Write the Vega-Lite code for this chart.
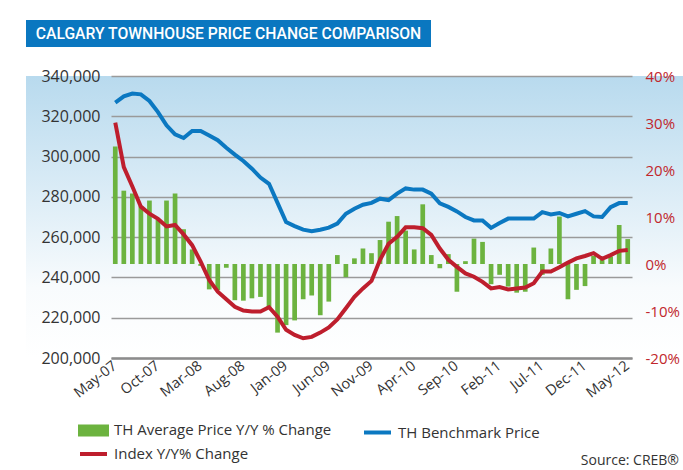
{
 "$schema": "https://vega.github.io/schema/vega-lite/v6.json",
 "padding": {"left": 26, "top": 20, "right": 0, "bottom": 0},
 "background": "white",
 "spacing": 21,
 "config": {"view": {"stroke": null}, "font": "Open Sans"},
 "vconcat": [
  {
   "width": 405, "height": 27,
   "view": {"fill": "#0a77c0", "stroke": null},
   "data": {"values": [{"t": "CALGARY TOWNHOUSE PRICE CHANGE COMPARISON"}]},
   "mark": {"type": "text", "color": "white", "font": "Roboto", "fontSize": 15.7, "fontWeight": 500, "align": "center", "baseline": "middle"},
   "encoding": {"text": {"field": "t"}}
  },
  {
   "width": 657, "height": 282,
   "view": {"fill": {"gradient": "linear", "x1": 0, "y1": 0, "x2": 0, "y2": 1, "stops": [{"offset": 0, "color": "#b8daee"}, {"offset": 0.75, "color": "#f8fbfd"}, {"offset": 1, "color": "#ffffff"}]}, "stroke": null},
   "title": {"text": "Source: CREB®", "orient": "bottom", "anchor": "end", "fontSize": 14, "fontWeight": "normal", "font": "Open Sans", "color": "#333333", "offset": 54, "dx": -4},
   "data": {"values": [
    {"m": "May-07", "avg": 25.0, "bench": 326800, "idx": 30.1},
    {"m": "Jun-07", "avg": 15.6, "bench": 329900, "idx": 20.6},
    {"m": "Jul-07", "avg": 15.0, "bench": 331300, "idx": 16.5},
    {"m": "Aug-07", "avg": 12.3, "bench": 330900, "idx": 12.2},
    {"m": "Sep-07", "avg": 13.5, "bench": 327600, "idx": 10.7},
    {"m": "Oct-07", "avg": 9.4, "bench": 322100, "idx": 9.6},
    {"m": "Nov-07", "avg": 13.5, "bench": 315500, "idx": 8.0},
    {"m": "Dec-07", "avg": 15.0, "bench": 311000, "idx": 8.3},
    {"m": "Jan-08", "avg": 7.4, "bench": 309200, "idx": 6.3},
    {"m": "Feb-08", "avg": 3.1, "bench": 312700, "idx": 4.0},
    {"m": "Mar-08", "avg": -0.4, "bench": 312700, "idx": 0.5},
    {"m": "Apr-08", "avg": -5.4, "bench": 310500, "idx": -3.4},
    {"m": "May-08", "avg": -5.6, "bench": 308100, "idx": -5.9},
    {"m": "Jun-08", "avg": -0.8, "bench": 304400, "idx": -7.5},
    {"m": "Jul-08", "avg": -7.7, "bench": 301000, "idx": -9.1},
    {"m": "Aug-08", "avg": -7.8, "bench": 297800, "idx": -9.9},
    {"m": "Sep-08", "avg": -7.3, "bench": 294000, "idx": -10.1},
    {"m": "Oct-08", "avg": -7.0, "bench": 289600, "idx": -10.1},
    {"m": "Nov-08", "avg": -9.5, "bench": 286500, "idx": -9.2},
    {"m": "Dec-08", "avg": -14.6, "bench": 277000, "idx": -11.2},
    {"m": "Jan-09", "avg": -13.0, "bench": 267500, "idx": -14.0},
    {"m": "Feb-09", "avg": -12.0, "bench": 265500, "idx": -15.1},
    {"m": "Mar-09", "avg": -7.5, "bench": 263700, "idx": -15.8},
    {"m": "Apr-09", "avg": -6.7, "bench": 263000, "idx": -15.5},
    {"m": "May-09", "avg": -10.9, "bench": 263700, "idx": -14.6},
    {"m": "Jun-09", "avg": -8.0, "bench": 264700, "idx": -13.5},
    {"m": "Jul-09", "avg": 1.9, "bench": 266700, "idx": -11.8},
    {"m": "Aug-09", "avg": -2.8, "bench": 271600, "idx": -9.4},
    {"m": "Sep-09", "avg": 1.2, "bench": 274100, "idx": -7.0},
    {"m": "Oct-09", "avg": 3.3, "bench": 276100, "idx": -5.2},
    {"m": "Nov-09", "avg": 2.3, "bench": 277000, "idx": -3.6},
    {"m": "Dec-09", "avg": 5.1, "bench": 279100, "idx": 0.9},
    {"m": "Jan-10", "avg": 9.0, "bench": 278400, "idx": 4.3},
    {"m": "Feb-10", "avg": 10.2, "bench": 281600, "idx": 5.8},
    {"m": "Mar-10", "avg": 7.1, "bench": 284200, "idx": 7.8},
    {"m": "Apr-10", "avg": 3.1, "bench": 283600, "idx": 7.8},
    {"m": "May-10", "avg": 12.7, "bench": 283600, "idx": 7.6},
    {"m": "Jun-10", "avg": 1.9, "bench": 281600, "idx": 6.2},
    {"m": "Jul-10", "avg": -0.9, "bench": 276800, "idx": 3.3},
    {"m": "Aug-10", "avg": 2.1, "bench": 275000, "idx": 0.9},
    {"m": "Sep-10", "avg": -5.9, "bench": 272800, "idx": -0.6},
    {"m": "Oct-10", "avg": 0.6, "bench": 270000, "idx": -2.0},
    {"m": "Nov-10", "avg": 5.4, "bench": 268300, "idx": -2.7},
    {"m": "Dec-10", "avg": 4.7, "bench": 268300, "idx": -3.8},
    {"m": "Jan-11", "avg": -4.3, "bench": 264600, "idx": -5.2},
    {"m": "Feb-11", "avg": -2.3, "bench": 267000, "idx": -4.9},
    {"m": "Mar-11", "avg": -4.8, "bench": 269200, "idx": -5.4},
    {"m": "Apr-11", "avg": -6.1, "bench": 269200, "idx": -5.2},
    {"m": "May-11", "avg": -5.9, "bench": 269200, "idx": -5.0},
    {"m": "Jun-11", "avg": 3.5, "bench": 269200, "idx": -4.1},
    {"m": "Jul-11", "avg": -2.3, "bench": 272400, "idx": -1.6},
    {"m": "Aug-11", "avg": 3.3, "bench": 271300, "idx": -1.6},
    {"m": "Sep-11", "avg": 10.1, "bench": 272000, "idx": -0.7},
    {"m": "Oct-11", "avg": -7.5, "bench": 270300, "idx": 0.3},
    {"m": "Nov-11", "avg": -5.5, "bench": 271600, "idx": 1.2},
    {"m": "Dec-11", "avg": -4.7, "bench": 272900, "idx": 1.7},
    {"m": "Jan-12", "avg": 1.7, "bench": 270300, "idx": 2.3},
    {"m": "Feb-12", "avg": 0.85, "bench": 270000, "idx": 1.1},
    {"m": "Mar-12", "avg": 1.6, "bench": 274900, "idx": 1.9},
    {"m": "Apr-12", "avg": 8.3, "bench": 276900, "idx": 2.8},
    {"m": "May-12", "avg": 5.3, "bench": 276900, "idx": 3.0}
   ]},
   "encoding": {
    "x": {"field": "m", "type": "ordinal", "sort": null,
     "scale": {"range": [85, 606], "paddingInner": 0.45, "paddingOuter": 0.225},
     "axis": {"values": ["May-07","Oct-07","Mar-08","Aug-08","Jan-09","Jun-09","Nov-09","Apr-10","Sep-10","Feb-11","Jul-11","Dec-11","May-12"],
      "labelAngle": -38, "labelAlign": "right", "labelBaseline": "middle", "labelFontSize": 14.5, "labelColor": "#333333", "labelFont": "Open Sans",
      "ticks": false, "tickSize": 0, "labelPadding": 6, "domain": true, "domainColor": "#8c8c8c", "domainWidth": 2.5, "title": null, "grid": false}}
   },
   "layer": [
    {"layer": [
     {"mark": {"type": "bar"},
      "encoding": {
       "y": {"field": "avg", "type": "quantitative",
        "scale": {"domain": [-20, 40], "nice": false, "zero": false},
        "axis": {"orient": "right", "offset": -51, "values": [-20,-10,0,10,20,30,40], "labelExpr": "datum.value + '%'", "grid": false, "domain": false, "ticks": false, "tickSize": 0, "labelPadding": 13, "labelFontSize": 15, "labelColor": "#c1272d", "labelFont": "Open Sans", "title": null}},
       "color": {"datum": "TH Average Price Y/Y % Change", "type": "nominal",
        "scale": {"domain": ["TH Average Price Y/Y % Change", "TH Benchmark Price", "Index Y/Y% Change"], "range": ["#6cb33f", "#0b78c1", "#be1e2d"]},
        "legend": {"orient": "none", "direction": "horizontal", "legendX": 56.5, "legendY": 399, "columns": 2, "columnPadding": 24, "rowPadding": -2, "symbolSize": 324, "labelFont": "Open Sans", "labelFontSize": 15, "labelColor": "#333333", "title": null, "labelOffset": 9.5, "labelLimit": 400, "padding": 0,
         "encode": {"symbols": {"update": {
          "shape": {"signal": "datum.value === 'TH Average Price Y/Y % Change' ? 'M-1.5,-0.45H1.5V0.45H-1.5Z' : 'M-1.5,0H1.5'"},
          "fill": {"signal": "datum.value === 'TH Average Price Y/Y % Change' ? '#6cb33f' : 'transparent'"},
          "stroke": {"signal": "datum.value === 'TH Average Price Y/Y % Change' ? 'transparent' : (datum.value === 'TH Benchmark Price' ? '#0b78c1' : '#be1e2d')"},
          "strokeWidth": {"value": 4},
          "opacity": {"value": 1}
         }}}}}
      }},
     {"mark": {"type": "line", "strokeWidth": 4},
      "encoding": {
       "y": {"field": "idx", "type": "quantitative"},
       "color": {"datum": "Index Y/Y% Change", "type": "nominal"}
      }}
    ]},
    {"mark": {"type": "line", "strokeWidth": 4},
     "encoding": {
      "y": {"field": "bench", "type": "quantitative",
       "scale": {"domain": [200000, 340000], "nice": false, "zero": false},
       "axis": {"orient": "left", "offset": -85, "values": [200000,220000,240000,260000,280000,300000,320000,340000], "labelExpr": "format(datum.value, ',')", "grid": true, "gridColor": "#9a9a9a", "gridWidth": 1.5, "domain": false, "ticks": false, "tickSize": 0, "labelPadding": 11, "labelFontSize": 16, "labelColor": "#333333", "labelFont": "Open Sans", "title": null}},
      "color": {"datum": "TH Benchmark Price", "type": "nominal"}
     }}
   ],
   "resolve": {"scale": {"y": "independent"}}
  }
 ]
}
